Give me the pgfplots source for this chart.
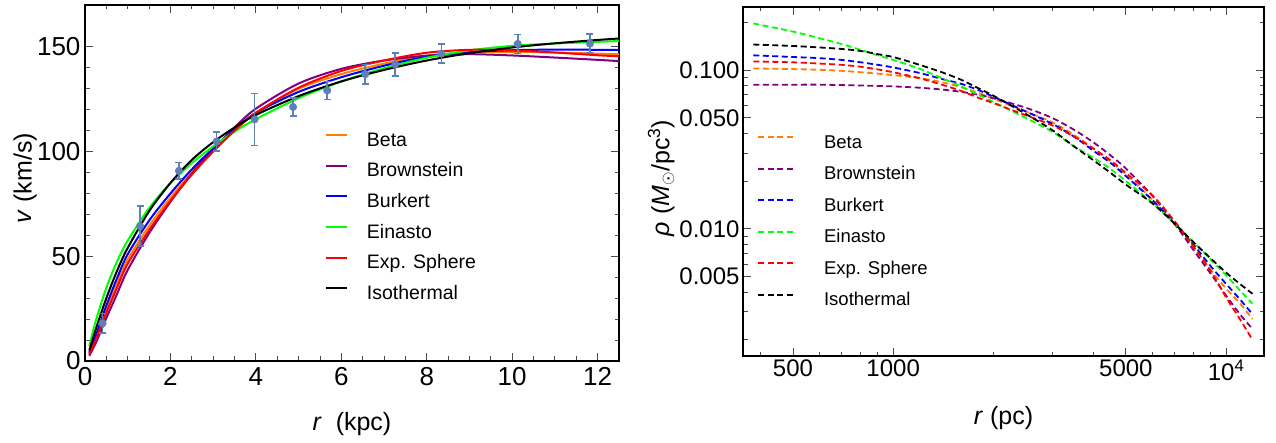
\documentclass[border=0pt]{standalone}
\usepackage{fontspec}
\setmainfont{Liberation Sans}
\usepackage{pgfplots}
\usepackage{pgfplotstable}
\pgfplotsset{compat=1.18}

\definecolor{MOrange}{rgb}{1,0.5,0}
\definecolor{MPurple}{rgb}{0.5,0,0.5}
\definecolor{MBlue}{rgb}{0,0,1}
\definecolor{MGreen}{rgb}{0,1,0}
\definecolor{MRed}{rgb}{1,0,0}
\definecolor{PtBlue}{rgb}{0.368,0.507,0.710}

% rotation curves v(r), r in kpc, v in km/s
\pgfplotstableread{
r     beta  brown burk  ein   exps  iso
0.1   3.5   2.5   4     7     3     5
0.25  11    8.5   12    19    10    15
0.5   24.5  20.5  26.5  35    23    30
0.75  37    32    39.5  47.5  35    43
1     48.5  43.5  51    57.5  46.5  54
1.5   64.5  61    67    73    62.5  71.5
2     78    76    80    85    76.5  85
2.5   90    89.5  91.5  94.5  89    96
3     100.5 101   101.5 102.5 100   104.5
3.5   110   111.5 110.5 109.5 110   111.5
4     118.5 120.5 118.5 115.5 118.5 117.5
5     130   132.5 128.5 125.5 130.5 126.5
6     137   139.5 135.5 133.5 138.5 133.5
7     142   143.5 141   139.8 143.5 139
8     145.8 145.8 145.3 144.8 147.2 143.5
9     147.4 146.5 147.5 148.3 148.6 147
10    147.6 145.9 148.4 150.5 148.3 149.7
11    147.3 144.9 148.7 151.6 147.3 151.7
12    146.8 143.8 148.6 152.4 146   153.3
12.5  146.5 143.2 148.5 152.8 145.5 154
}\rotdata

% observed rotation velocities
\pgfplotstableread{
r      v      e
0.41   18     4.6
1.29   64.4   9.5
2.2    90.8   4
3.08   104.8  4.5
3.97   115.4  12.4
4.87   121.3  4.3
5.67   129.2  4.3
6.56   137    4.7
7.26   141.6  5.5
8.34   146.8  4.5
10.13  151.4  4.6
11.82  151.6  4.5
}\obsdata

% density profiles rho(r), r in pc
\pgfplotstableread{
r     beta   brown   burk   ein     exps   iso
380   0.1025 0.081   0.124  0.197   0.1135 0.1450
500   0.1015 0.081   0.121  0.175   0.112  0.142
600   0.1005 0.081   0.119  0.159   0.110  0.139
700   0.099  0.0805  0.116  0.146   0.108  0.136
800   0.097  0.080   0.112  0.134   0.105  0.132
900   0.095  0.0795  0.108  0.124   0.101  0.126
1000  0.093  0.079   0.104  0.116   0.097  0.121
1200  0.089  0.0775  0.096  0.102   0.089  0.108
1400  0.084  0.0755  0.088  0.089   0.081  0.097
1600  0.078  0.073   0.082  0.079   0.074  0.087
1800  0.072  0.070   0.075  0.070   0.067  0.077
2000  0.066  0.0665  0.068  0.063   0.062  0.069
2500  0.055  0.058   0.055  0.050   0.052  0.053
3000  0.047  0.050   0.046  0.041   0.045  0.042
3500  0.039  0.042   0.038  0.033   0.038  0.033
4000  0.032  0.035   0.031  0.028   0.032  0.027
4500  0.0265 0.029   0.026  0.0238  0.027  0.0225
5000  0.022  0.024   0.0215 0.020   0.0225 0.019
6000  0.0153 0.0162  0.0152 0.0146  0.0163 0.0145
7000  0.0107 0.0108  0.0108 0.0108  0.0112 0.0108
8000  0.0076 0.0073  0.0079 0.0082  0.0077 0.0082
9000  0.0055 0.0052  0.0058 0.0064  0.0054 0.0065
10000 0.0042 0.0038  0.0045 0.0051  0.0037 0.0053
11000 0.0034 0.0029  0.0036 0.0041  0.0027 0.0045
12000 0.0027 0.00234 0.0029 0.00338 0.0020 0.0039
}\densdata

\pgfplotsset{
  panel/.style={
    scale only axis,
    anchor=south west,
    tick align=inside,
    major tick length=8pt,
    minor tick length=4.5pt,
    every tick/.style={black!70, line width=0.9pt},
    axis line style={line width=1.6pt},
    /pgf/number format/assume math mode=true,
    label style={font=\fontsize{25}{25}\selectfont},
    legend cell align=left,
  },
}

\begin{document}
\begin{tikzpicture}
\useasboundingbox (0,0) rectangle (1276pt,443pt);

\begin{axis}[
  panel,
  at={(85pt,82pt)},
  width=534pt, height=356pt,
  xmin=0, xmax=12.5, ymin=0, ymax=170,
  xtick={0,2,...,12}, ytick={0,50,100,150},
  minor x tick num=3, minor y tick num=4,
  ticklabel style={font=\fontsize{26}{26}\selectfont},
  xticklabel style={yshift=-3pt},
  yticklabel style={xshift=-1pt},
  xlabel={\textit{r}\ \ (kpc)},
  ylabel={\textit{v} (km/s)},
  x label style={at={(axis description cs:0.5,0)}, yshift=-63pt, anchor=center},
  y label style={at={(axis description cs:-0.112,0.514)}, anchor=center},
  legend style={at={(axis description cs:0.449,0.643)}, anchor=north west,
    draw=none, fill=none, font=\fontsize{19.5}{19.5}\selectfont,
    row sep=12.6pt, inner sep=0pt,
    nodes={inner sep=0pt, text height=14pt, text depth=4pt},
    /tikz/every odd column/.append style={column sep=19pt}},
  legend image code/.code={\draw[#1] (0pt,6pt) -- (21pt,6pt);},
]
\addplot[MOrange, line width=2pt, smooth] table[x=r, y=beta] {\rotdata};
\addplot[MPurple, line width=2pt, smooth] table[x=r, y=brown] {\rotdata};
\addplot[MBlue, line width=2pt, smooth] table[x=r, y=burk] {\rotdata};
\addplot[MGreen, line width=2pt, smooth] table[x=r, y=ein] {\rotdata};
\addplot[MRed, line width=2pt, smooth] table[x=r, y=exps] {\rotdata};
\addplot[black, line width=2pt, smooth] table[x=r, y=iso] {\rotdata};
\legend{Beta, Brownstein, Burkert, Einasto, Exp. Sphere, Isothermal}
\addplot[forget plot, only marks, PtBlue, mark=*, mark size=3.8pt,
  error bars/.cd, y dir=both, y explicit,
  error bar style={line width=1.5pt, PtBlue},
  error mark options={rotate=90, mark size=3.5pt, line width=1.5pt, PtBlue}]
  table[x=r, y=v, y error=e] {\obsdata};
\end{axis}

\begin{axis}[
  panel,
  at={(743pt,87pt)},
  width=521pt, height=349pt,
  xmode=log, ymode=log,
  xmin=354, xmax=13000, ymin=0.00158, ymax=0.25,
  xtick={500,1000,5000,10000},
  xticklabels={500,1000,5000,10\textsuperscript{4}},
  minor xtick={400,600,700,800,900,2000,3000,4000,6000,7000,8000,9000},
  ytick={0.005,0.01,0.05,0.1},
  yticklabels={0.005,0.010,0.050,0.100},
  minor ytick={0.002,0.003,0.004,0.006,0.007,0.008,0.009,0.02,0.03,0.04,0.06,0.07,0.08,0.09,0.2},
  ticklabel style={font=\fontsize{24}{24}\selectfont},
  xlabel={\textit{r} (pc)},
  ylabel={\textit{ρ} (\textit{M}$_\odot$/pc\textsuperscript{3})},
  x label style={at={(axis description cs:0.5,0)}, yshift=-62pt, anchor=center},
  y label style={at={(axis description cs:-0.157,0.51)}, anchor=center},
  legend style={at={(axis description cs:0.027,0.636)}, anchor=north west,
    draw=none, fill=none, font=\fontsize{18.5}{18.5}\selectfont,
    row sep=13.5pt, inner sep=0pt,
    nodes={inner sep=0pt, text height=14pt, text depth=4pt},
    /tikz/every odd column/.append style={column sep=27pt}},
  legend image code/.code={\draw[#1] (0pt,6pt) -- (38pt,6pt);},
  every axis plot/.append style={line width=1.8pt, dash pattern=on 6pt off 3.5pt, smooth},
]
\addplot[MOrange] table[x=r, y=beta] {\densdata};
\addplot[MPurple] table[x=r, y=brown] {\densdata};
\addplot[MBlue] table[x=r, y=burk] {\densdata};
\addplot[MGreen] table[x=r, y=ein] {\densdata};
\addplot[MRed] table[x=r, y=exps] {\densdata};
\addplot[black] table[x=r, y=iso] {\densdata};
\legend{Beta, Brownstein, Burkert, Einasto, Exp. Sphere, Isothermal}
\end{axis}
\end{tikzpicture}
\end{document}
